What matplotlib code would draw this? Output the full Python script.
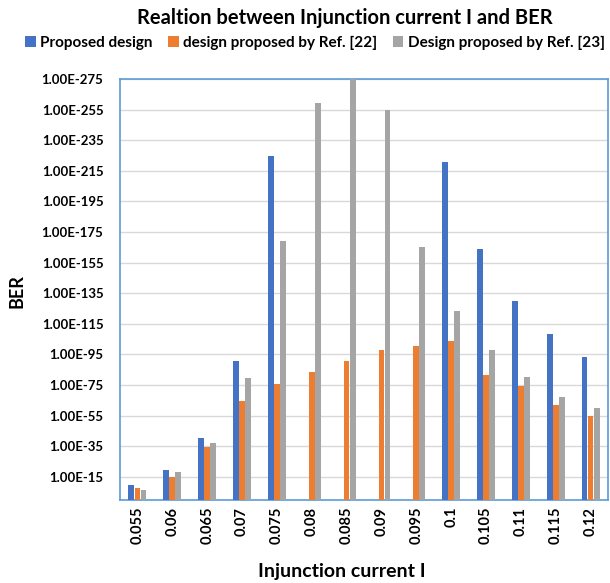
import numpy as np
import matplotlib.pyplot as plt

plt.rcParams['font.family'] = ['Lato', 'DejaVu Sans']

# injection current values (categories)
currents = ["0.055", "0.06", "0.065", "0.07", "0.075", "0.08", "0.085",
            "0.09", "0.095", "0.1", "0.105", "0.11", "0.115", "0.12"]

# BER exponents (BER = 1E-value)
proposed = [9.6, 19.4, 40.3, 90.6, 224.9, np.nan, np.nan,
            np.nan, np.nan, 220.7, 163.7, 130.1, 108.3, 93.5]
ref22 = [7.8, 14.6, 34.4, 64.3, 75.6, 83.4, 90.6,
         97.6, 100.4, 103.7, 81.7, 74.1, 62.1, 54.7]
ref23 = [6.3, 18.3, 37.2, 79.5, 169.1, 259.5, 275.0,
         254.7, 165.2, 123.5, 97.6, 80.4, 67.3, 60.1]

series_names = ["Proposed design", "design proposed by Ref. [22]",
                "Design proposed by Ref. [23]"]
colors = ["#4472C4", "#ED7D31", "#A5A5A5"]
ticks = list(range(15, 276, 20))

W, H = 610, 583


def main():
    fig = plt.figure(figsize=(W / 100, H / 100), dpi=100)
    ax = fig.add_axes([120 / W, 83 / H, 488 / W, 421 / H])

    x = np.arange(len(currents))
    w = 0.175
    for i, (vals, name, c) in enumerate(zip([proposed, ref22, ref23],
                                            series_names, colors)):
        ax.bar(x + (i - 1) * w, vals, width=w * 0.95, color=c, label=name,
               zorder=3)

    ax.set_xlim(-0.5, len(currents) - 0.5)
    ax.set_ylim(-0.2, 275)
    ax.set_yticks(ticks)
    ax.set_yticklabels(["1.00E-%d" % t for t in ticks],
                       fontsize=9.5, fontweight='bold')
    ax.set_xticks(x)
    ax.set_xticklabels(currents, rotation=90, fontsize=10.5,
                       fontweight='bold')
    ax.tick_params(axis='y', length=0, pad=12)
    ax.tick_params(axis='x', length=0, pad=5)
    ax.grid(axis='y', color='#D9D9D9', linewidth=1, zorder=0)
    for s in ax.spines.values():
        s.set_color('#5B9BD5')
        s.set_linewidth(1.2)

    # axis titles and chart title placed like the Excel layout
    fig.text(17 / W, 1 - 291 / H, "BER", rotation=90, ha='center',
             va='center', fontsize=13, fontweight='bold')
    fig.text(342 / W, 1 - 572 / H, "Injunction current I", ha='center',
             va='center', fontsize=14, fontweight='bold')
    fig.text(345 / W, 1 - 18 / H, "Realtion between Injunction current I and BER",
             ha='center', va='center', fontsize=14.5, fontweight='bold')
    fig.legend(loc='center', bbox_to_anchor=(315 / W, 1 - 43 / H), ncol=3,
               frameon=False, handlelength=0.7,
               handleheight=0.7, handletextpad=0.3, columnspacing=1.0,
               prop={'weight': 'bold', 'size': 11})

    fig.savefig("out.png", dpi=100)


if __name__ == "__main__":
    main()
